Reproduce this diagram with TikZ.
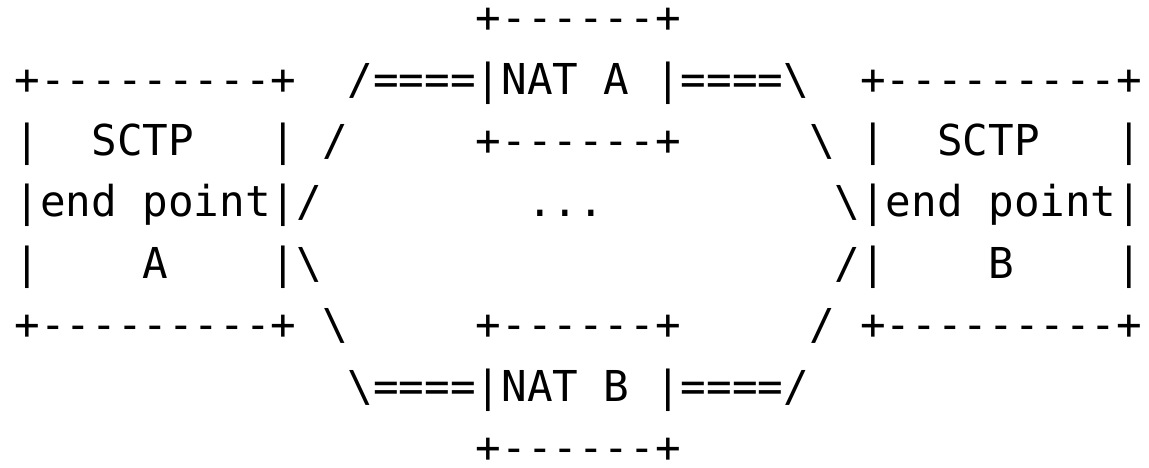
\documentclass[tikz,border=0pt]{standalone}
\usepackage{fontspec}
\setmonofont{DejaVu Sans Mono}
\tikzset{asc/.style={anchor=base west, inner sep=0pt, outer sep=0pt,
  text height=30pt, text depth=0pt,
  font=\ttfamily\fontsize{42.57}{50}\selectfont}}
\newcommand\bs{\textbackslash}
\begin{document}
\begin{tikzpicture}[x=25.63pt, y=-61.4pt]
\useasboundingbox (0pt,0pt) rectangle (1149pt,-467pt);
\begin{scope}[shift={(14.5pt,-32.6pt)}]
% row 1
\node[asc] (natAtop) at (18,0) {+------+};
% row 2
\node[asc] (epAtop) at (0,1) {+---------+};
\node[asc] (linkAl) at (13,1) {/====};
\node[asc] (natA) at (18,1) {|NAT A |};
\node[asc] (linkAr) at (26,1) {====\bs};
\node[asc] (epBtop) at (33,1) {+---------+};
% row 3
\node[asc] (epAl3) at (0,2) {|};
\node[asc] (epAsctp) at (3,2) {SCTP};
\node[asc] (epAr3) at (10,2) {|};
\node[asc] (sl3a) at (12,2) {/};
\node[asc] (natAbot) at (18,2) {+------+};
\node[asc] (sl3b) at (31,2) {\bs};
\node[asc] (epBl3) at (33,2) {|};
\node[asc] (epBsctp) at (36,2) {SCTP};
\node[asc] (epBr3) at (43,2) {|};
% row 4
\node[asc] (epAend) at (0,3) {|end point|};
\node[asc] (sl4a) at (11,3) {/};
\node[asc] (dots) at (20,3) {...};
\node[asc] (sl4b) at (32,3) {\bs};
\node[asc] (epBend) at (33,3) {|end point|};
% row 5
\node[asc] (epAl5) at (0,4) {|};
\node[asc] (epAname) at (5,4) {A};
\node[asc] (epAr5) at (10,4) {|\bs};
\node[asc] (epBl5) at (32,4) {/|};
\node[asc] (epBname) at (38,4) {B};
\node[asc] (epBr5) at (43,4) {|};
% row 6
\node[asc] (epAbot) at (0,5) {+---------+};
\node[asc] (sl6a) at (12,5) {\bs};
\node[asc] (natBtop) at (18,5) {+------+};
\node[asc] (sl6b) at (31,5) {/};
\node[asc] (epBbot) at (33,5) {+---------+};
% row 7
\node[asc] (linkBl) at (13,6) {\bs====};
\node[asc] (natB) at (18,6) {|NAT B |};
\node[asc] (linkBr) at (26,6) {====/};
% row 8
\node[asc] (natBbot) at (18,7) {+------+};
\end{scope}
\end{tikzpicture}
\end{document}
